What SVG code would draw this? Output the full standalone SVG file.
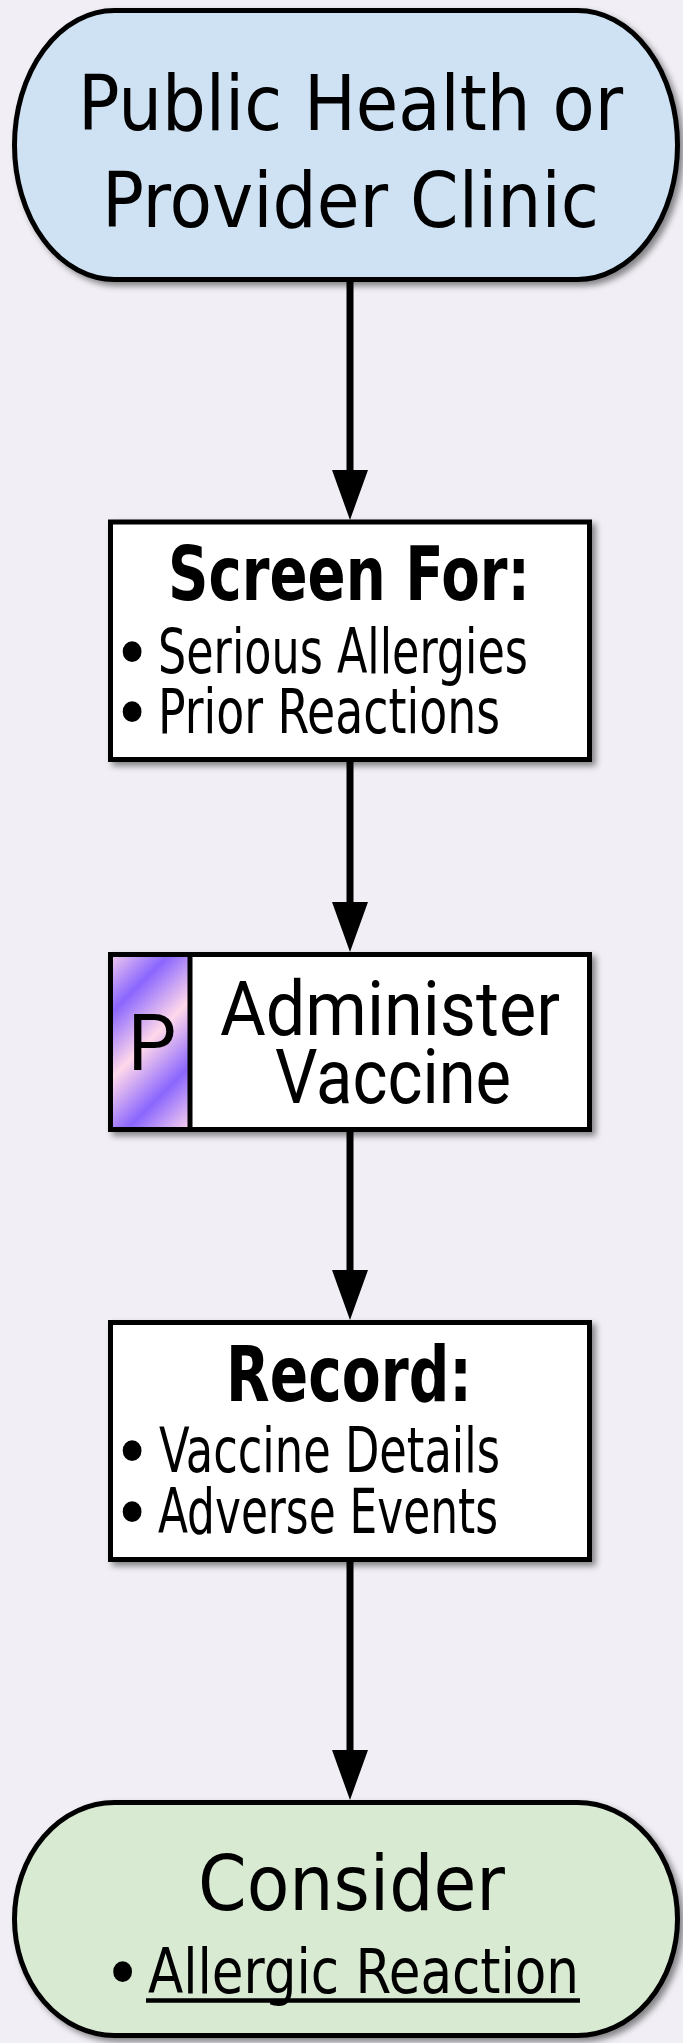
<svg xmlns="http://www.w3.org/2000/svg" width="683" height="2043" viewBox="0 0 683 2043">
  <defs>
    <filter id="shadow" x="-10%" y="-10%" width="130%" height="130%">
      <feDropShadow dx="4" dy="4" stdDeviation="3" flood-color="#000" flood-opacity="0.45"/>
    </filter>
    <linearGradient id="stripes" gradientUnits="userSpaceOnUse" x1="150" y1="974" x2="183" y2="1007" spreadMethod="reflect">
      <stop offset="0" stop-color="#8a66ff"/>
      <stop offset="1" stop-color="#ffd8ea"/>
    </linearGradient>
  </defs>
  <style>
    .node { stroke: #000; stroke-width: 5; filter: url(#shadow); }
    .cond { font-family: "Liberation Sans Narrow", "DejaVu Sans Condensed", "Liberation Sans", sans-serif; fill: #000; }
    .bold { font-weight: bold; }
    .rob { font-family: Roboto, "Liberation Sans", sans-serif; fill: #000; }
    .edge { stroke: #000; stroke-width: 7; fill: none; }
    .head { fill: #000; }
    .dot { font-size: 72px; }
  </style>

  <rect x="0" y="0" width="683" height="2043" fill="#f1eff5"/>

  <g id="connectors">
    <line class="edge" x1="350" y1="282" x2="350" y2="472"/>
    <path class="head" d="M332,470 L368,470 L350,520 Z"/>
    <line class="edge" x1="350" y1="762" x2="350" y2="904"/>
    <path class="head" d="M332,902 L368,902 L350,952 Z"/>
    <line class="edge" x1="350" y1="1132" x2="350" y2="1272"/>
    <path class="head" d="M332,1270 L368,1270 L350,1320 Z"/>
    <line class="edge" x1="350" y1="1562" x2="350" y2="1752"/>
    <path class="head" d="M332,1750 L368,1750 L350,1800 Z"/>
  </g>

  <g id="clinic">
    <rect class="node" x="14.5" y="10.5" width="663" height="269" rx="100" ry="134.5" fill="#cfe2f3"/>
    <text class="cond" x="78" y="130" font-size="77" textLength="545" lengthAdjust="spacingAndGlyphs">Public Health or</text>
    <text class="cond" x="102" y="227" font-size="77" textLength="497" lengthAdjust="spacingAndGlyphs">Provider Clinic</text>
  </g>

  <g id="screen">
    <rect class="node" x="110.5" y="522" width="479" height="237.5" fill="#fff"/>
    <text class="cond bold" x="168" y="600" font-size="74" textLength="362" lengthAdjust="spacingAndGlyphs">Screen For:</text>
    <text class="cond" y="673" font-size="62"><tspan class="dot" x="113" dy="5">•</tspan><tspan x="158" dy="-5" textLength="370" lengthAdjust="spacingAndGlyphs">Serious Allergies</tspan></text>
    <text class="cond" y="733" font-size="62"><tspan class="dot" x="113" dy="5">•</tspan><tspan x="158" dy="-5" textLength="342" lengthAdjust="spacingAndGlyphs">Prior Reactions</tspan></text>
  </g>

  <g id="administer">
    <rect class="node" x="110.5" y="954.5" width="479" height="175" fill="#fff"/>
    <rect x="110.5" y="954.5" width="79.5" height="175" fill="url(#stripes)"/>
    <rect x="110.5" y="954.5" width="479" height="175" fill="none" stroke="#000" stroke-width="5"/>
    <line x1="190" y1="954.5" x2="190" y2="1129.5" stroke="#000" stroke-width="5"/>
    <text class="rob" x="152" y="1070" font-size="77" text-anchor="middle">P</text>
    <text class="rob" x="220" y="1035" font-size="76" textLength="340" lengthAdjust="spacingAndGlyphs">Administer</text>
    <text class="rob" x="275" y="1103" font-size="76" textLength="236" lengthAdjust="spacingAndGlyphs">Vaccine</text>
  </g>

  <g id="record">
    <rect class="node" x="110.5" y="1322.5" width="479" height="237" fill="#fff"/>
    <text class="cond bold" x="226" y="1401" font-size="76" textLength="246" lengthAdjust="spacingAndGlyphs">Record:</text>
    <text class="cond" y="1472" font-size="62"><tspan class="dot" x="113" dy="5">•</tspan><tspan x="159" dy="-5" textLength="341" lengthAdjust="spacingAndGlyphs">Vaccine Details</tspan></text>
    <text class="cond" y="1533" font-size="62"><tspan class="dot" x="113" dy="5">•</tspan><tspan x="158" dy="-5" textLength="340" lengthAdjust="spacingAndGlyphs">Adverse Events</tspan></text>
  </g>

  <g id="consider">
    <rect class="node" x="14.5" y="1802.5" width="663" height="233" rx="100" ry="116.5" fill="#d9ead3"/>
    <text class="cond" x="198" y="1910" font-size="77" textLength="307" lengthAdjust="spacingAndGlyphs">Consider</text>
    <text class="cond" y="1993" font-size="62"><tspan class="dot" x="103.5" dy="5">•</tspan><tspan x="148" dy="-5" textLength="431" lengthAdjust="spacingAndGlyphs">Allergic Reaction</tspan></text>
    <line x1="146" y1="2000.5" x2="580" y2="2000.5" stroke="#000" stroke-width="4.5"/>
  </g>
</svg>
